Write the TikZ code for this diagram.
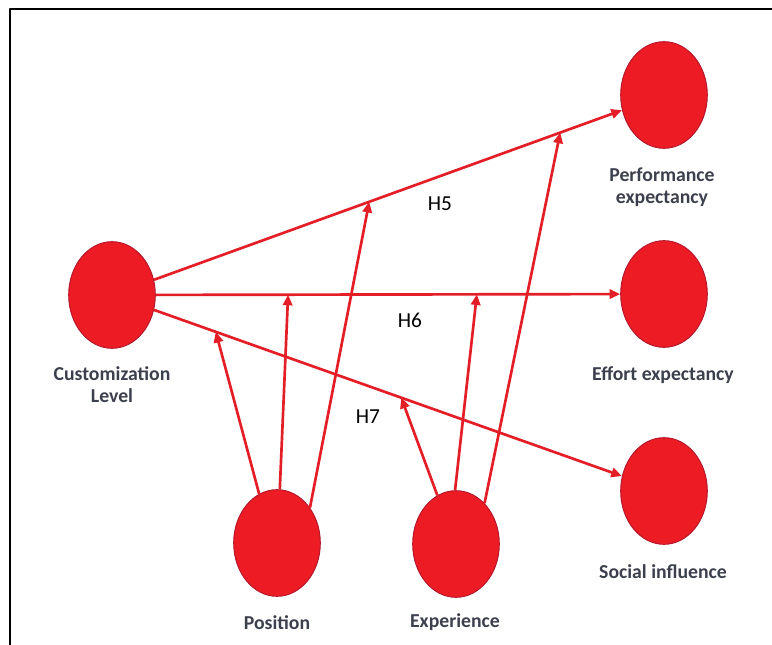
\documentclass[tikz,border=0pt]{standalone}
\usepackage{fontspec}
\setmainfont{Carlito}
\usetikzlibrary{arrows.meta,calc,shapes.geometric}
\definecolor{modred}{HTML}{E31E26}
\definecolor{modfill}{HTML}{ED1C24}
\definecolor{modedge}{HTML}{B3162C}
\definecolor{lbltext}{HTML}{3B404C}
\tikzset{
  construct/.style={ellipse, fill=modfill, draw=modedge, line width=.7pt, inner sep=0pt,
    minimum width=65pt, minimum height=80pt},
  lbl/.style={font=\fontsize{14.8}{16.5}\selectfont\bfseries, text=lbltext, align=center},
  hyp/.style={font=\fontsize{16}{18}\selectfont, text=black},
  path/.style={draw=modred, line width=2pt},
}
\begin{document}
\begin{tikzpicture}[x=.75pt, y=-.75pt, line join=round, >={Triangle[length=8pt,width=7pt]}]
	\useasboundingbox (0,0) rectangle (772,645);
	\draw[line width=2pt] (10,645) -- (10,9) -- (772,9);
	% constructs
	\node[construct] (cl) at (112,295) {};
	\node[construct] (pe) at (664,95) {};
	\node[construct] (ee) at (664,294) {};
	\node[construct] (si) at (664,491) {};
	\node[construct] (pos) at (277,543) {};
	\node[construct] (exp) at (456,544) {};
	\node[lbl] (cll) at (112,385) {Customization\\Level};
	\node[lbl] (pel) at (662,187) {Performance\\expectancy};
	\node[lbl] (eel) at (663,375) {Effort expectancy};
	\node[lbl] (sil) at (663,572) {Social influence};
	\node[lbl] (posl) at (277,623) {Position};
	\node[lbl] (expl) at (455,622) {Experience};
	% main paths
	\draw[path, ->] (cl) -- (pe);
	\draw[path, ->] (cl) -- (ee);
	\draw[path, ->] (cl) -- (si);
	% moderation points
	\path
	($(cl)!.188!(si)$) coordinate (psi)
	($(cl)!.319!(ee)$) coordinate (pee)
	($(cl)!.466!(pe)$) coordinate (ppe)
	($(cl)!.524!(si)$) coordinate (esi)
	($(cl)!.661!(ee)$) coordinate (eee)
	($(cl)!.812!(pe)$) coordinate (epe)
	;
	\foreach \src/\a/\dst in {pos/110/psi, pos/87/pee, pos/47/ppe, exp/111/esi, exp/91/eee, exp/55/epe}
	\draw[path, ->] (\src.\a) -- (\dst);
	\node[hyp] (h5) at (440,204) {H5};
	\node[hyp] (h6) at (410,320) {H6};
	\node[hyp] (h7) at (368,417) {H7};
\end{tikzpicture}
\end{document}
